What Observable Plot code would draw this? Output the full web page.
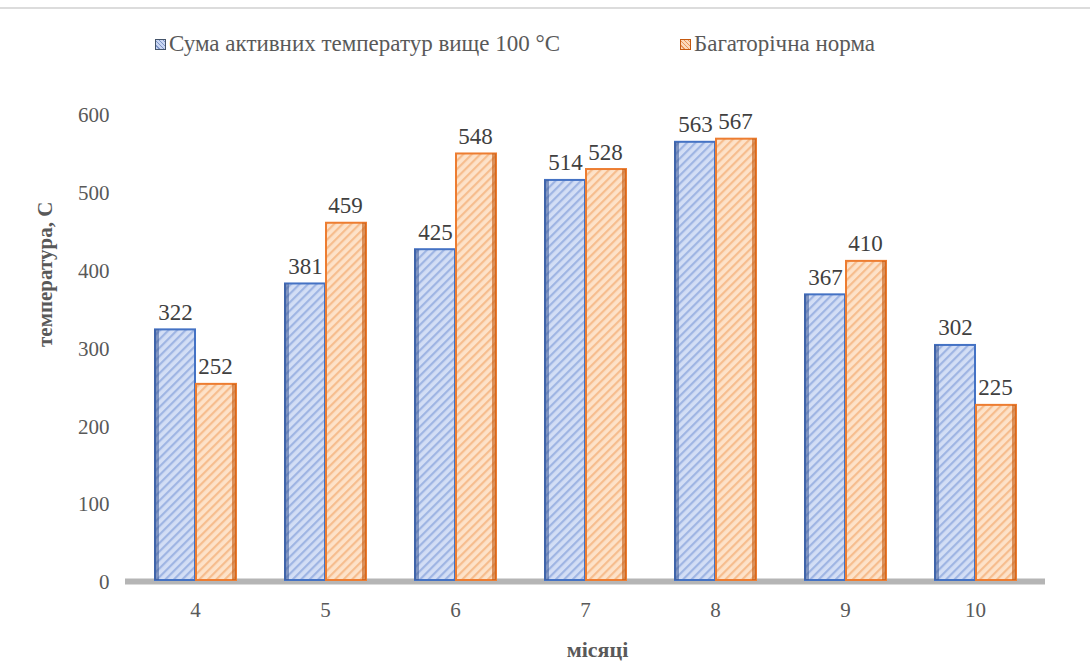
<!DOCTYPE html>
<html>
<head>
<meta charset="utf-8">
<script src="https://cdn.jsdelivr.net/npm/d3@7"></script>
<script src="https://cdn.jsdelivr.net/npm/@observablehq/plot@0.6"></script>
<style>
  html, body, body *, svg, svg text, svg tspan { font-family: 'Liberation Serif', 'Times New Roman', serif !important; }
  body { margin: 0; background: #fff; }
  #wrap { position: relative; width: 1090px; height: 666px; overflow: hidden; }
  #topline { position: absolute; left: 0; top: 7px; width: 1090px; height: 2px; background: #dcdcdc; }
  .item { position: absolute; top: 31px; font-size: 23px; color: #595959; display: flex; align-items: center; white-space: nowrap; }
  .sw { width: 11px; height: 11px; margin-right: 3px; box-sizing: border-box; }
  #chart { position: absolute; left: 0; top: 90px; }
</style>
</head>
<body>
<div id="wrap">
  <div id="topline"></div>
  <div class="item" style="left:155px"><div class="sw" style="border:1.5px solid #44546a; background:repeating-linear-gradient(45deg,#c9d6f2 0 2px,#7f95c8 2px 3px)"></div><span id="lg0"></span></div>
  <div class="item" style="left:680px"><div class="sw" style="border:1.5px solid #c55a11; background:repeating-linear-gradient(45deg,#fbd9bb 0 2px,#e9955a 2px 3px)"></div><span id="lg1"></span></div>
  <div id="chart"></div>
</div>
<script>
const months = ["4", "5", "6", "7", "8", "9", "10"];
const sumActive = [322, 381, 425, 514, 563, 367, 302];
const longTermNorm = [252, 459, 548, 528, 567, 410, 225];
const seriesNames = ["Сума активних температур вище 100 °С", "Багаторічна норма"];
const yTicks = [0, 100, 200, 300, 400, 500, 600];
const yTitle = "температура, С";
const xTitle = "місяці";

document.getElementById("lg0").textContent = seriesNames[0];
document.getElementById("lg1").textContent = seriesNames[1];

const blueData = months.map((m, i) => ({month: m, value: sumActive[i]}));
const orangeData = months.map((m, i) => ({month: m, value: longTermNorm[i]}));

const serif = "'Liberation Serif', serif";

const W = 1090, H = 576;
const plot = Plot.plot({
  width: W,
  height: H,
  marginTop: 23,
  marginBottom: 86,
  marginLeft: 125,
  marginRight: 45,
  style: {fontFamily: serif, fontSize: "21px", color: "#595959", background: "transparent"},
  x: {domain: months, type: "band", paddingInner: 0.37, paddingOuter: 0.22, label: null},
  y: {domain: [0, 600], ticks: yTicks, label: null},
  marks: [
    Plot.ruleY([0], {stroke: "#b5b5b5", strokeWidth: 6, dy: 1}),
    Plot.barY(blueData, {x: "month", y: "value", insetRight: 41, insetLeft: 1,
      fill: "url(#hatchBlue)", stroke: "#4472c4", strokeWidth: 2}),
    Plot.barY(blueData, {x: "month", y: "value", insetRight: 77, insetLeft: 0,
      fill: "#3d5a96", fillOpacity: 0.55}),
    Plot.barY(orangeData, {x: "month", y: "value", insetLeft: 42, insetRight: 0,
      fill: "url(#hatchOrange)", stroke: "#ed7d31", strokeWidth: 2}),
    Plot.barY(orangeData, {x: "month", y: "value", insetLeft: 78, insetRight: 0,
      fill: "#c55a11", fillOpacity: 0.6}),
    Plot.text(blueData, {x: "month", y: "value", text: d => String(d.value), dx: -20, dy: -10,
      lineAnchor: "bottom", fill: "#404040", fontSize: 23, fontFamily: serif}),
    Plot.text(orangeData, {x: "month", y: "value", text: d => String(d.value), dx: 20, dy: -10,
      lineAnchor: "bottom", fill: "#404040", fontSize: 23, fontFamily: serif}),
    Plot.axisY({ticks: yTicks, tickSize: 0, tickPadding: 16, dy: 2, fill: "#595959", fontSize: 21, fontFamily: serif, label: null}),
    Plot.axisX({tickSize: 0, tickPadding: 22, fill: "#595959", fontSize: 21, fontFamily: serif, label: null}),
    Plot.text([yTitle], {frameAnchor: "left", dx: -80, dy: 0, rotate: -90, fill: "#595959",
      fontWeight: "bold", fontSize: 21, fontFamily: serif}),
    Plot.text([xTitle], {frameAnchor: "bottom", dx: 12, dy: 76, fill: "#595959",
      fontWeight: "bold", fontSize: 22, fontFamily: serif})
  ]
});

// hatch pattern defs
const ns = "http://www.w3.org/2000/svg";
const defs = document.createElementNS(ns, "defs");
function pattern(id, bg, line) {
  const p = document.createElementNS(ns, "pattern");
  p.setAttribute("id", id);
  p.setAttribute("patternUnits", "userSpaceOnUse");
  p.setAttribute("width", "6");
  p.setAttribute("height", "6");
  p.setAttribute("patternTransform", "rotate(45)");
  const r = document.createElementNS(ns, "rect");
  r.setAttribute("width", "6"); r.setAttribute("height", "6"); r.setAttribute("fill", bg);
  const l = document.createElementNS(ns, "rect");
  l.setAttribute("width", "2.2"); l.setAttribute("height", "6"); l.setAttribute("fill", line);
  p.appendChild(r); p.appendChild(l);
  defs.appendChild(p);
}
pattern("hatchBlue", "#d3def5", "#9fb5e3");
pattern("hatchOrange", "#fde2c9", "#f6bd8e");
plot.insertBefore(defs, plot.firstChild);

document.getElementById("chart").appendChild(plot);

// force serif on every text node container
document.querySelectorAll("#wrap, #wrap *").forEach(el => {
  el.style.setProperty("font-family", "'Liberation Serif', serif", "important");
});
</script>
</body>
</html>
